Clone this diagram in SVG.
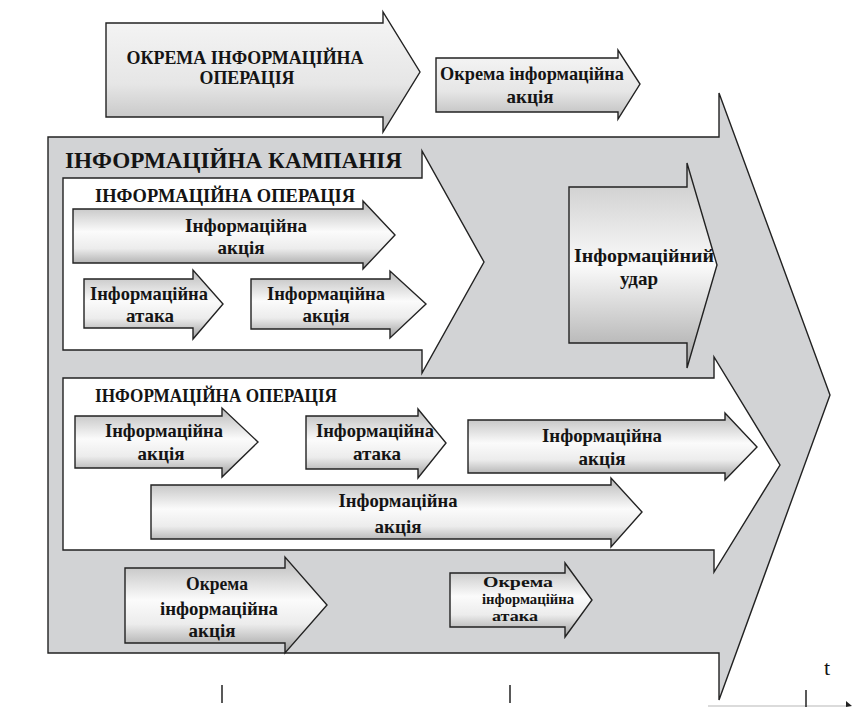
<svg xmlns="http://www.w3.org/2000/svg" width="852" height="707" viewBox="0 0 852 707">
<defs>
<linearGradient id="gs" x1="0" y1="0" x2="0" y2="1">
<stop offset="0" stop-color="#b9b9b9"/>
<stop offset="0.45" stop-color="#fbfbfb"/>
<stop offset="0.7" stop-color="#ececec"/>
<stop offset="1" stop-color="#9d9d9d"/>
</linearGradient>
<linearGradient id="gt" x1="0" y1="0" x2="0" y2="1">
<stop offset="0" stop-color="#f6f6f6"/>
<stop offset="0.6" stop-color="#e6e6e6"/>
<stop offset="1" stop-color="#bdbdbd"/>
</linearGradient>
<linearGradient id="gu" x1="0" y1="0" x2="0" y2="1">
<stop offset="0" stop-color="#c6c6c6"/>
<stop offset="0.5" stop-color="#fafafa"/>
<stop offset="1" stop-color="#a6a6a6"/>
</linearGradient>
<style>
.ar{stroke:#222;stroke-width:1.4;stroke-linejoin:miter}
.sm{fill:url(#gs)}
.tp{fill:url(#gt)}
.camp{fill:#d2d3d5}
.op{fill:#ffffff}
text{font-family:"Liberation Serif","Times New Roman",serif;font-weight:bold;fill:#141414}
.c{text-anchor:middle}
.f19{font-size:19px}
.f15{font-size:15px}
</style>
</defs>

<g id="axis">
<line x1="708" y1="706" x2="846" y2="706" stroke="#cfcfcf" stroke-width="1.5"/>
<polygon points="846,701 852,706 846,707" fill="#222"/>
<line x1="222" y1="685" x2="222" y2="703" stroke="#222" stroke-width="1.5"/>
<line x1="510" y1="685" x2="510" y2="703" stroke="#222" stroke-width="1.5"/>
<line x1="806" y1="690" x2="806" y2="707" stroke="#222" stroke-width="1.5"/>
<text x="827" y="675" class="c" font-size="22" style="font-weight:normal">t</text>
</g>

<g id="top-operation">
<polygon class="ar tp" points="106,23 383,23 383,12 420,72 383,132 383,117 106,117"/>
<text class="c f19" x="245" y="64" textLength="237" lengthAdjust="spacingAndGlyphs">ОКРЕМА ІНФОРМАЦІЙНА</text>
<text class="c f19" x="247" y="84" textLength="95" lengthAdjust="spacingAndGlyphs">ОПЕРАЦІЯ</text>
</g>

<g id="top-action">
<polygon class="ar tp" points="436,58 618,58 618,50 640,84 618,119 618,112 436,112"/>
<text class="c f19" x="532" y="80" textLength="184" lengthAdjust="spacingAndGlyphs">Окрема інформаційна</text>
<text class="c f19" x="530" y="103">акція</text>
</g>

<g id="campaign">
<polygon class="ar camp" points="48,137 719,137 719,93 830,395 719,700 719,653 48,653"/>
<text x="65" y="168" font-size="24" textLength="337" lengthAdjust="spacingAndGlyphs">ІНФОРМАЦІЙНА КАМПАНІЯ</text>
</g>

<g id="operation-1">
<polygon class="ar op" points="63,178 422,178 422,151 484,262 422,373 422,350 63,350"/>
<text x="95" y="202" font-size="19" textLength="260" lengthAdjust="spacingAndGlyphs">ІНФОРМАЦІЙНА ОПЕРАЦІЯ</text>
</g>

<g id="op1-action-1">
<polygon class="ar sm" points="73,209 363,209 363,201 395,235 363,269 363,263 73,263"/>
<text class="c f19" x="246" y="232" textLength="122" lengthAdjust="spacingAndGlyphs">Інформаційна</text>
<text class="c f19" x="241" y="254">акція</text>
</g>

<g id="op1-attack">
<polygon class="ar sm" points="84,279 193,279 193,270 223,304 193,339 193,328 84,328"/>
<text class="c f19" x="149" y="300" textLength="118" lengthAdjust="spacingAndGlyphs">Інформаційна</text>
<text class="c f19" x="150" y="322">атака</text>
</g>

<g id="op1-action-2">
<polygon class="ar sm" points="251,279 390,279 390,271 426,304 390,338 390,329 251,329"/>
<text class="c f19" x="326" y="300" textLength="118" lengthAdjust="spacingAndGlyphs">Інформаційна</text>
<text class="c f19" x="326" y="322">акція</text>
</g>

<g id="strike">
<polygon class="ar" fill="url(#gu)" points="569,187 687,187 687,163 717,265 687,368 687,343 569,343"/>
<text class="c f19" x="644" y="262" textLength="140" lengthAdjust="spacingAndGlyphs">Інформаційний</text>
<text class="c f19" x="639" y="285">удар</text>
</g>

<g id="operation-2">
<polygon class="ar op" points="63,378 714,378 714,357 780,465 714,572 714,550 63,550"/>
<text x="95" y="402" font-size="19" textLength="242" lengthAdjust="spacingAndGlyphs">ІНФОРМАЦІЙНА ОПЕРАЦІЯ</text>
</g>

<g id="op2-action-1">
<polygon class="ar sm" points="75,416 222,416 222,408 258,442 222,477 222,468 75,468"/>
<text class="c f19" x="164" y="437" textLength="118" lengthAdjust="spacingAndGlyphs">Інформаційна</text>
<text class="c f19" x="161" y="460">акція</text>
</g>

<g id="op2-attack">
<polygon class="ar sm" points="306,416 418,416 418,409 446,443 418,478 418,469 306,469"/>
<text class="c f19" x="375" y="437" textLength="118" lengthAdjust="spacingAndGlyphs">Інформаційна</text>
<text class="c f19" x="377" y="460">атака</text>
</g>

<g id="op2-action-2">
<polygon class="ar sm" points="468,420 725,420 725,413 757,447 725,480 725,473 468,473"/>
<text class="c f19" x="602" y="442" textLength="120" lengthAdjust="spacingAndGlyphs">Інформаційна</text>
<text class="c f19" x="602" y="465">акція</text>
</g>

<g id="op2-action-3">
<polygon class="ar sm" points="151,485 611,485 611,478 642,512 611,547 611,539 151,539"/>
<text class="c f19" x="398" y="507" textLength="119" lengthAdjust="spacingAndGlyphs">Інформаційна</text>
<text class="c f19" x="398" y="533">акція</text>
</g>

<g id="separate-action">
<polygon class="ar sm" points="125,568 285,568 285,557 327,605 285,653 285,643 125,643"/>
<text class="c f19" x="217" y="590" textLength="62" lengthAdjust="spacingAndGlyphs">Окрема</text>
<text class="c f19" x="219" y="615" textLength="118" lengthAdjust="spacingAndGlyphs">інформаційна</text>
<text class="c f19" x="212" y="637">акція</text>
</g>

<g id="separate-attack">
<polygon class="ar sm" points="450,573 565,573 565,563 592,600 565,637 565,627 450,627"/>
<text class="c f15" x="518" y="587" textLength="70" lengthAdjust="spacingAndGlyphs">Окрема</text>
<text class="c f15" x="528" y="604" textLength="92" lengthAdjust="spacingAndGlyphs">інформаційна</text>
<text class="c f15" x="515" y="621" textLength="46" lengthAdjust="spacingAndGlyphs">атака</text>
</g>
</svg>
